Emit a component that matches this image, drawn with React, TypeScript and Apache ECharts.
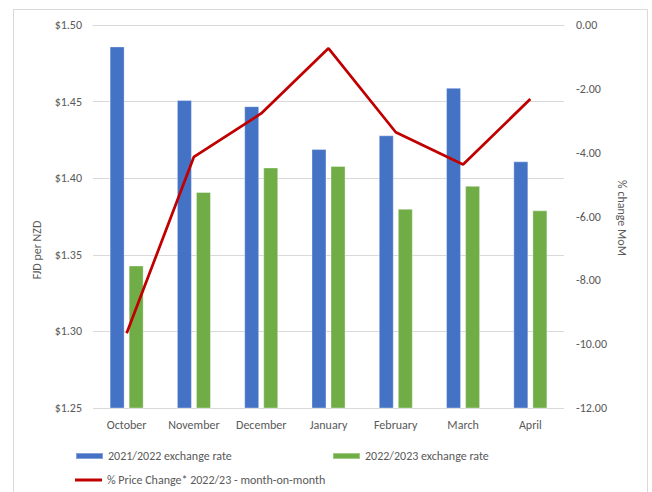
import React, { useEffect, useRef } from "react";
import * as echarts from "echarts";

const categories = ["October", "November", "December", "January", "February", "March", "April"];
const rate2122 = [1.486, 1.451, 1.447, 1.419, 1.428, 1.459, 1.411];
const rate2223 = [1.343, 1.391, 1.407, 1.408, 1.380, 1.395, 1.379];
const priceChange = [-9.66, -4.13, -2.77, -0.73, -3.36, -4.37, -2.32];

const seriesNames = [
  "2021/2022 exchange rate",
  "2022/2023 exchange rate",
  "% Price Change* 2022/23 - month-on-month",
];

const FONT = "Carlito, Calibri, Lato, sans-serif";
const TXT = "#595959";

export default function App() {
  const ref = useRef<HTMLDivElement>(null);
  useEffect(() => {
    if (!ref.current) return;
    const chart = echarts.init(ref.current, null, { renderer: "svg" });
    const legendBase = {
      selectedMode: false,
      itemWidth: 27,
      textStyle: { color: TXT, fontSize: 12, fontFamily: FONT },
      orient: "horizontal" as const,
    };
    chart.setOption({
      animation: false,
      backgroundColor: "#ffffff",
      textStyle: { fontFamily: FONT },
      grid: { left: 93, right: 88, top: 25, bottom: 84, containLabel: false },
      legend: [
        { ...legendBase, left: 70, top: 445, itemHeight: 6, icon: "rect", data: [seriesNames[0]] },
        { ...legendBase, left: 327, top: 445, itemHeight: 6, icon: "rect", data: [seriesNames[1]] },
        { ...legendBase, left: 70, top: 469, itemHeight: 3, icon: "rect", data: [seriesNames[2]] },
      ],
      graphic: [
        {
          type: "rect",
          silent: true,
          shape: { x: 13.5, y: 9.5, width: 634, height: 520 },
          style: { fill: "none", stroke: "#D9D9D9", lineWidth: 1 },
        },
        {
          type: "text",
          x: 37,
          y: 250,
          rotation: Math.PI / 2,
          style: {
            text: "FJD per NZD",
            fill: TXT,
            fontSize: 12,
            fontFamily: FONT,
            align: "center",
            verticalAlign: "middle",
          },
        },
        {
          type: "text",
          x: 622,
          y: 218,
          rotation: -Math.PI / 2,
          style: {
            text: "% change MoM",
            fill: TXT,
            fontSize: 12,
            fontFamily: FONT,
            align: "center",
            verticalAlign: "middle",
          },
        },
      ],
      xAxis: {
        type: "category",
        data: categories,
        axisLine: { lineStyle: { color: "#D9D9D9" } },
        axisTick: { show: false },
        axisLabel: { color: TXT, fontSize: 12, margin: 11, fontFamily: FONT },
      },
      yAxis: [
        {
          type: "value",
          min: 1.25,
          max: 1.5,
          interval: 0.05,
          axisLine: { show: false },
          axisTick: { show: false },
          splitLine: { lineStyle: { color: "#D9D9D9" } },
          axisLabel: {
            color: TXT,
            fontSize: 12,
            margin: 11,
            fontFamily: FONT,
            formatter: (v: number) => "$" + v.toFixed(2),
          },
        },
        {
          type: "value",
          min: -12,
          max: 0,
          interval: 2,
          axisLine: { show: false },
          axisTick: { show: false },
          splitLine: { show: false },
          axisLabel: {
            color: TXT,
            fontSize: 12,
            margin: 12,
            fontFamily: FONT,
            formatter: (v: number) => v.toFixed(2),
          },
        },
      ],
      series: [
        {
          name: seriesNames[0],
          type: "bar",
          data: rate2122,
          barWidth: 15,
          barGap: "27%",
          itemStyle: { color: "#4472C4", borderColor: "rgba(255,255,255,0.35)", borderWidth: 1 },
        },
        {
          name: seriesNames[1],
          type: "bar",
          data: rate2223,
          barWidth: 15,
          barGap: "27%",
          itemStyle: { color: "#70AD47", borderColor: "rgba(255,255,255,0.35)", borderWidth: 1 },
        },
        {
          name: seriesNames[2],
          type: "line",
          yAxisIndex: 1,
          data: priceChange,
          showSymbol: false,
          symbol: "none",
          lineStyle: { color: "#C00000", width: 2.75 },
          itemStyle: { color: "#C00000" },
          z: 5,
        },
      ],
    });
    return () => chart.dispose();
  }, []);
  return (
    <div
      ref={ref}
      style={{ position: "absolute", left: 0, top: 0, width: 652, height: 492 }}
    />
  );
}
